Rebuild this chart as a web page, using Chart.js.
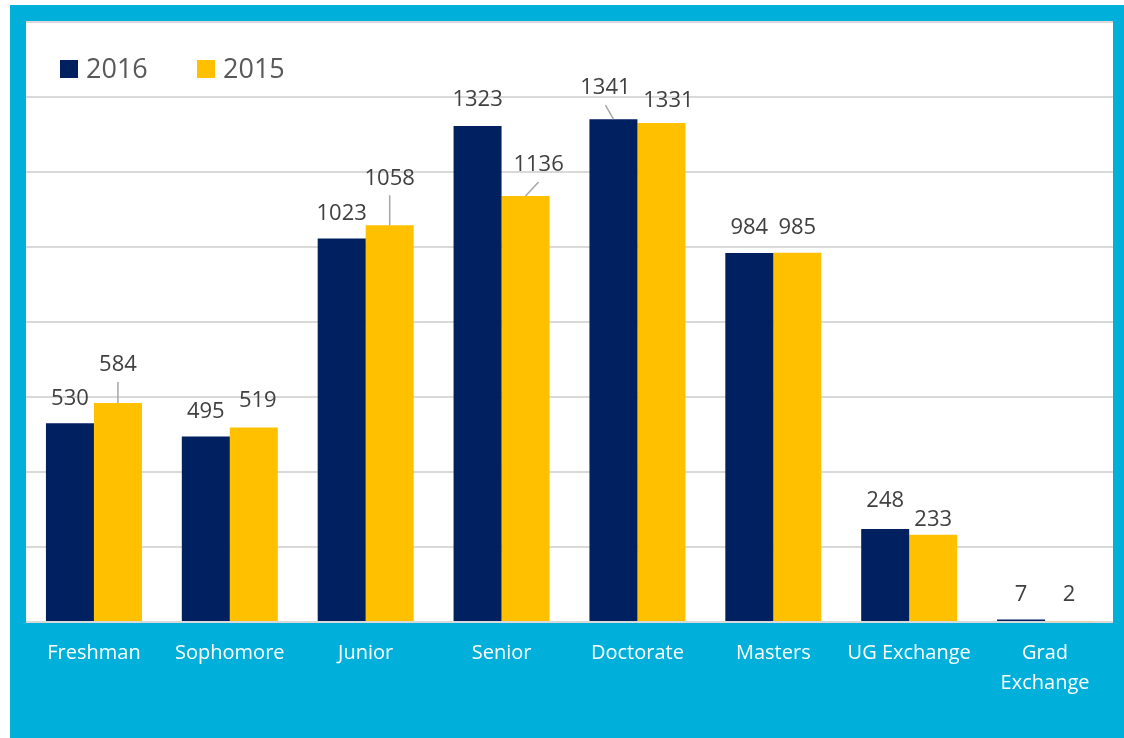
<!DOCTYPE html>
<html>
<head>
<meta charset="utf-8">
<script src="https://cdn.jsdelivr.net/npm/chart.js@4"></script>
<style>
  html, body { margin: 0; padding: 0; background: #fff; }
  #wrap { width: 1124px; height: 738px; position: relative; }
</style>
</head>
<body>
<div id="wrap"><canvas id="c"></canvas></div>
<script>
// ── Données ───────────────────────────────────────────────
const categories = ['Freshman', 'Sophomore', 'Junior', 'Senior', 'Doctorate', 'Masters', 'UG Exchange', ['Grad', 'Exchange']];
const values2016 = [530, 495, 1023, 1323, 1341, 984, 248, 7];
const values2015 = [584, 519, 1058, 1136, 1331, 985, 233, 2];
const seriesLabels = ['2016', '2015'];
const Y_MAX = 1600;
const Y_STEP = 200;

// ── Styles ────────────────────────────────────────────────
const NAVY = '#002060';
const GOLD = '#FFC000';
const FRAME = '#00B0DA';
const FONT = '"Open Sans", "Noto Sans", sans-serif';

// décalages des étiquettes (dataset:index) — le reste à -26 px
const labelTweaks = {
  '1:0': { dy: -39, lead: true },
  '1:1': { dy: -28, dx: 4 },
  '1:2': { dy: -48, lead: true },
  '0:3': { dy: -27 },
  '1:3': { dy: -32, dx: 13, lead: true },
  '0:4': { dy: -32, dx: -8, lead: true },
  '1:4': { dy: -23, dx: 7 },
  '0:6': { dy: -29 },
  '1:6': { dy: -16 },
  '1:7': { dy: -28 },
};

// fond bleu + zone blanche
const framePlugin = {
  id: 'frame',
  beforeDraw(chart) {
    const { ctx, chartArea: a } = chart;
    ctx.save();
    ctx.fillStyle = '#fff';
    ctx.fillRect(0, 0, chart.width, chart.height);
    ctx.fillStyle = FRAME;
    ctx.fillRect(10, 5, chart.width - 10, chart.height - 5);
    ctx.fillStyle = '#fff';
    ctx.fillRect(a.left, a.top, a.right - a.left, a.bottom - a.top);
    ctx.restore();
  },
};

// étiquettes de valeurs + lignes de rappel
const valueLabels = {
  id: 'valueLabels',
  afterDatasetsDraw(chart) {
    const { ctx } = chart;
    ctx.save();
    ctx.font = '22px ' + FONT;
    ctx.fillStyle = '#404040';
    ctx.textAlign = 'center';
    ctx.textBaseline = 'middle';
    chart.data.datasets.forEach((ds, di) => {
      chart.getDatasetMeta(di).data.forEach((bar, i) => {
        const t = labelTweaks[di + ':' + i] || {};
        const lx = bar.x + (t.dx || 0);
        const ly = bar.y + (t.dy != null ? t.dy : -26);
        if (t.lead) {
          ctx.strokeStyle = '#a6a6a6';
          ctx.lineWidth = 1.5;
          ctx.beginPath();
          ctx.moveTo(lx, ly + 18);
          ctx.lineTo(bar.x, bar.y);
          ctx.stroke();
        }
        ctx.fillText(String(ds.data[i]), lx, ly + 1);
      });
    });
    ctx.restore();
  },
};

// légende dans la zone de tracé
const insideLegend = {
  id: 'insideLegend',
  afterDraw(chart) {
    const { ctx } = chart;
    const xs = [60, 197];
    ctx.save();
    ctx.font = '27px ' + FONT;
    ctx.textBaseline = 'middle';
    chart.data.datasets.forEach((ds, di) => {
      ctx.fillStyle = ds.backgroundColor;
      ctx.fillRect(xs[di], 60, 18, 18);
      ctx.fillStyle = '#595959';
      ctx.fillText(ds.label, xs[di] + 26, 70);
    });
    ctx.restore();
  },
};

new Chart(document.getElementById('c'), {
  type: 'bar',
  data: {
    labels: categories,
    datasets: [
      { label: seriesLabels[0], data: values2016, backgroundColor: NAVY },
      { label: seriesLabels[1], data: values2015, backgroundColor: GOLD },
    ],
  },
  options: {
    responsive: true,
    maintainAspectRatio: false,
    animation: false,
    layout: { padding: { left: 26, top: 22, right: 11, bottom: 0 } },
    datasets: { bar: { categoryPercentage: 0.7065, barPercentage: 1 } },
    plugins: {
      legend: { display: false },
      tooltip: { enabled: false },
    },
    scales: {
      x: {
        grid: { display: false, drawTicks: false },
        border: { display: false },
        ticks: {
          color: '#fff',
          font: { family: FONT, size: 20, lineHeight: 1.5 },
          padding: 16,
          maxRotation: 0,
          autoSkip: false,
        },
        afterFit: (s) => { s.height = 116; },
      },
      y: {
        min: 0,
        max: Y_MAX,
        ticks: { display: false, stepSize: Y_STEP },
        grid: { color: '#d9d9d9', lineWidth: 2, drawTicks: false },
        border: { display: false },
        afterFit: (s) => { s.width = 0; },
      },
    },
  },
  plugins: [framePlugin, valueLabels, insideLegend],
});
</script>
</body>
</html>
